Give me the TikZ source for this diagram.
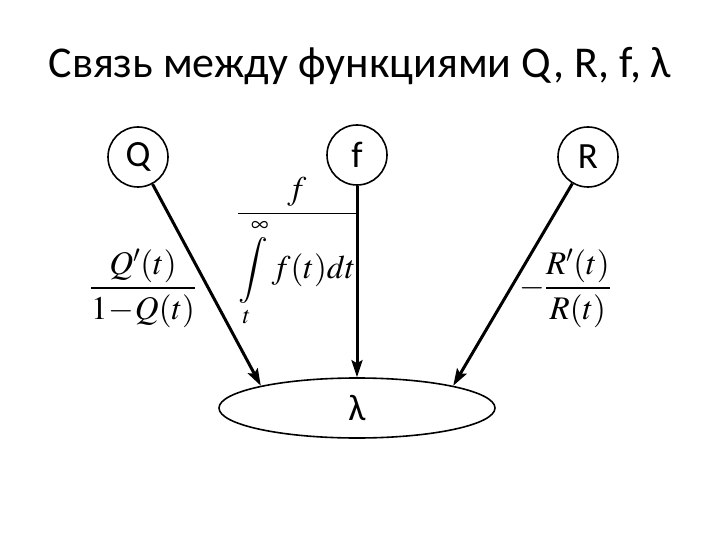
\documentclass[tikz,border=0pt]{standalone}
\usepackage{mathptmx}
\usepackage[no-math]{fontspec}
\setmainfont{Carlito}
\usetikzlibrary{shapes.geometric,arrows.meta}
\tikzset{
  vertex/.style={draw, circle, line width=1.6pt, minimum size=60pt, inner sep=0pt, font=\fontsize{37}{40}\selectfont},
  hub/.style={draw, ellipse, line width=1.6pt, minimum width=276pt, minimum height=60pt, inner sep=0pt, font=\fontsize{37}{40}\selectfont},
  link/.style={line width=3pt, -{Stealth[length=17pt,width=11pt,inset=3pt]}},
  rel/.style={inner sep=0pt, font=\fontsize{33}{40}\selectfont}
}

\begin{document}
\begin{tikzpicture}[x=1pt, y=-1pt]

    % Fix the page size
    \useasboundingbox (0,0) rectangle (720,540);

    % Title
    \node[anchor=base, font=\fontsize{44}{52}\selectfont] (title) at (360,78) {Связь между функциями Q, R, f, λ};

    % The three functions and lambda
    \node[vertex] (Q) at (138,157) {Q};
    \node[vertex] (f) at (357,155) {f};
    \node[vertex] (R) at (588,157) {R};
    \node[hub] (lam) at (357,408) {λ};

    % Arrows into lambda
    \draw[link] (Q) -- (lam.167);
    \draw[link] (f) -- (lam.north);
    \draw[link] (R) -- (lam.13);

    % Relations
    \node[rel] (relQ) at (143,288) {$\displaystyle\frac{Q'(t)}{1\!-\!Q(t)}$};
    \node[rel] (relf) at (297,252) {$\displaystyle\frac{f}{\displaystyle\int\limits_t^{\infty} f(t)dt}$};
    \node[rel] (relR) at (565,288) {$\displaystyle -\frac{R'(t)}{R(t)}$};

\end{tikzpicture}
\end{document}
